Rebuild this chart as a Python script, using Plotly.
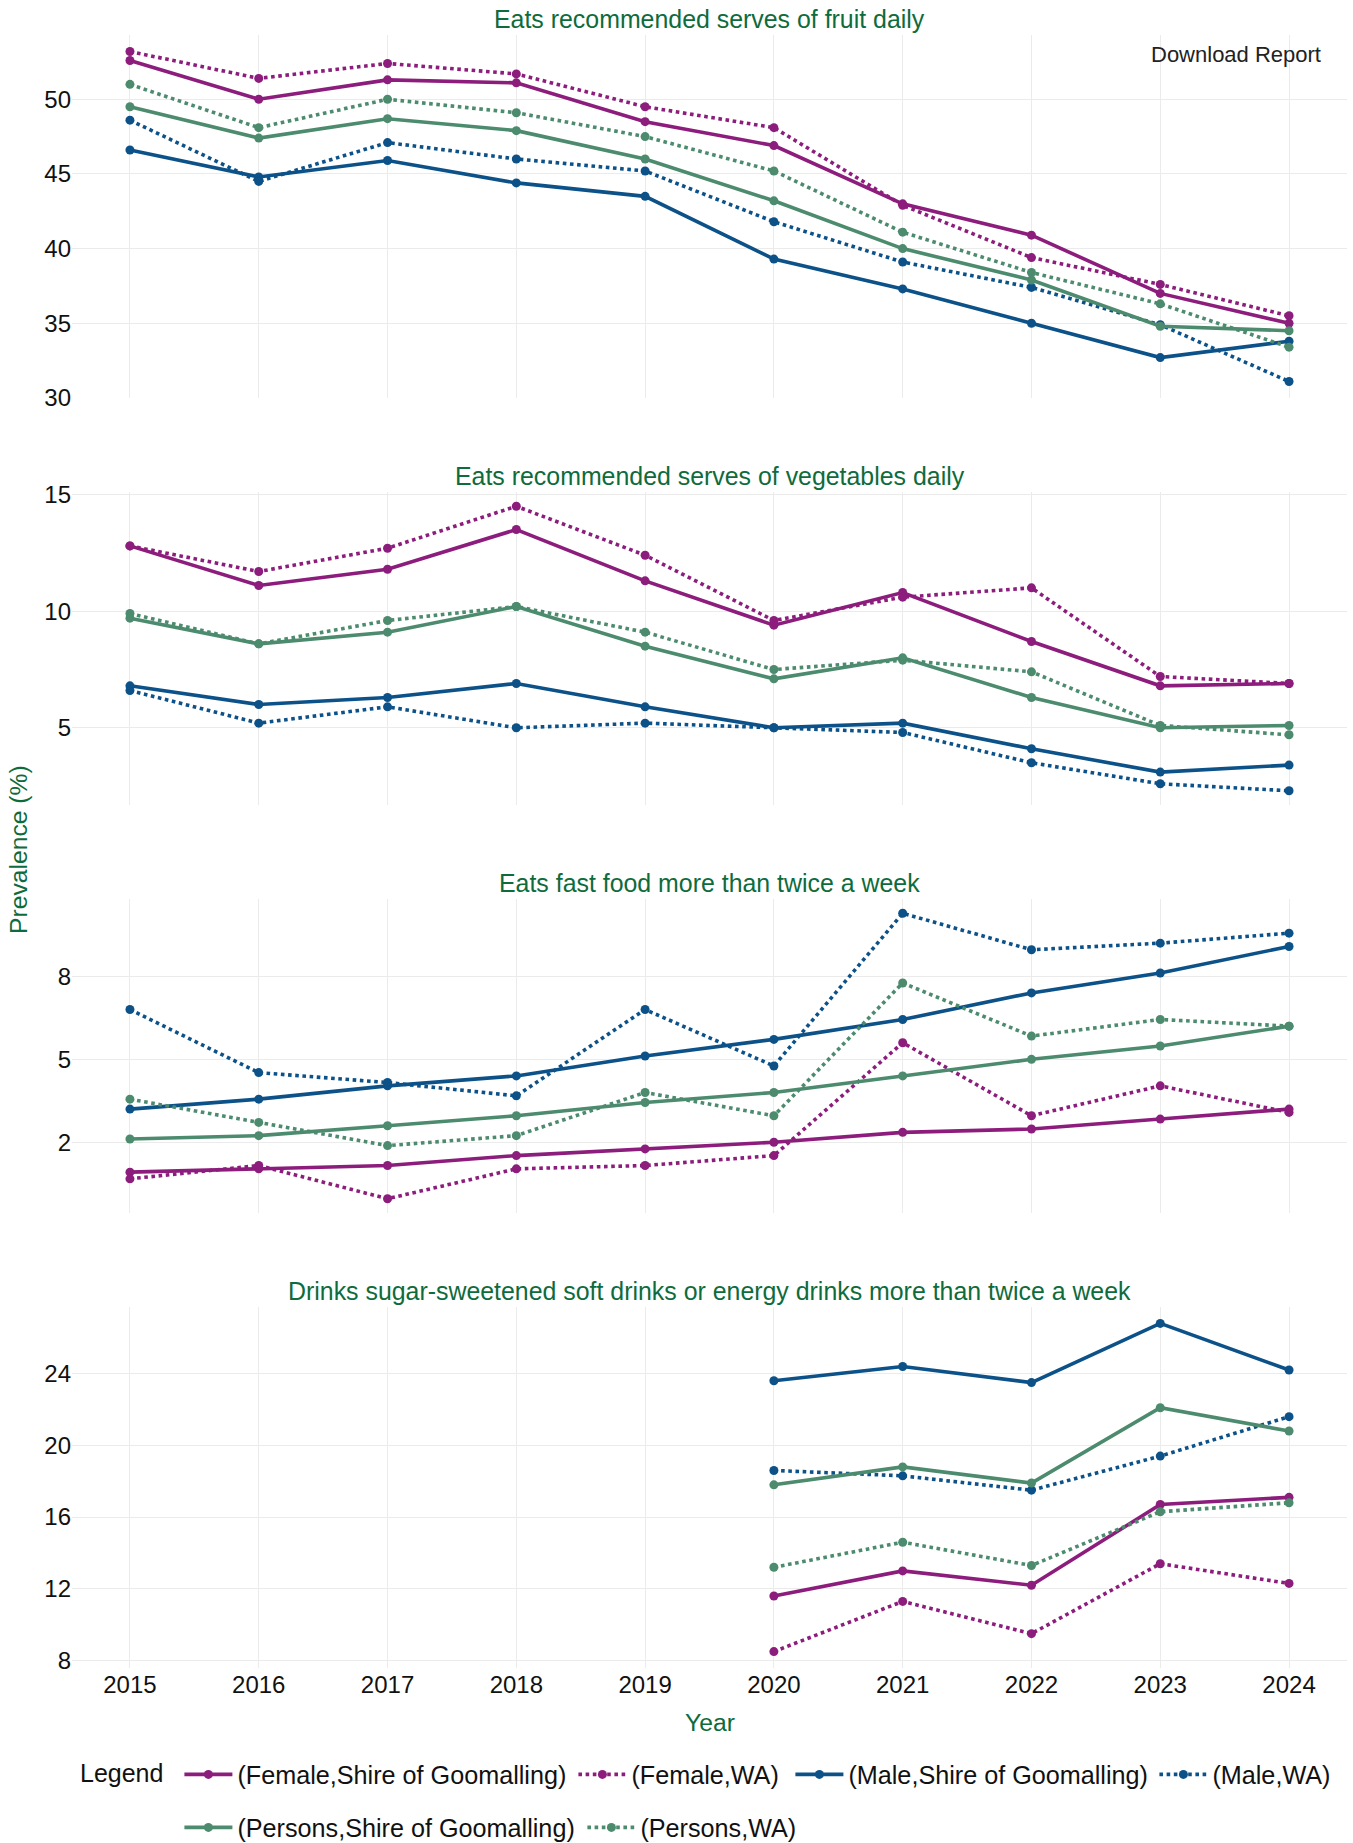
import plotly.graph_objects as go

# ---------------- data ----------------
years = [2015, 2016, 2017, 2018, 2019, 2020, 2021, 2022, 2023, 2024]
years_drinks = [2020, 2021, 2022, 2023, 2024]
year_labels = [str(y) for y in years]

series_names = [
    "(Female,Shire of Goomalling)",
    "(Female,WA)",
    "(Male,Shire of Goomalling)",
    "(Male,WA)",
    "(Persons,Shire of Goomalling)",
    "(Persons,WA)",
]

panel_titles = [
    "Eats recommended serves of fruit daily",
    "Eats recommended serves of vegetables daily",
    "Eats fast food more than twice a week",
    "Drinks sugar-sweetened soft drinks or energy drinks more than twice a week",
]

fruit_female_shire = [52.6, 50.0, 51.3, 51.1, 48.5, 46.9, 43.0, 40.9, 37.0, 35.0]
fruit_female_wa = [53.2, 51.4, 52.4, 51.7, 49.5, 48.1, 42.9, 39.4, 37.6, 35.5]
fruit_male_shire = [46.6, 44.8, 45.9, 44.4, 43.5, 39.3, 37.3, 35.0, 32.7, 33.8]
fruit_male_wa = [48.6, 44.5, 47.1, 46.0, 45.2, 41.8, 39.1, 37.4, 34.9, 31.1]
fruit_persons_shire = [49.5, 47.4, 48.7, 47.9, 46.0, 43.2, 40.0, 37.9, 34.8, 34.5]
fruit_persons_wa = [51.0, 48.1, 50.0, 49.1, 47.5, 45.2, 41.1, 38.4, 36.3, 33.4]

veg_female_shire = [12.8, 11.1, 11.8, 13.5, 11.3, 9.4, 10.8, 8.7, 6.8, 6.9]
veg_female_wa = [12.8, 11.7, 12.7, 14.5, 12.4, 9.6, 10.6, 11.0, 7.2, 6.9]
veg_male_shire = [6.8, 6.0, 6.3, 6.9, 5.9, 5.0, 5.2, 4.1, 3.1, 3.4]
veg_male_wa = [6.6, 5.2, 5.9, 5.0, 5.2, 5.0, 4.8, 3.5, 2.6, 2.3]
veg_persons_shire = [9.7, 8.6, 9.1, 10.2, 8.5, 7.1, 8.0, 6.3, 5.0, 5.1]
veg_persons_wa = [9.9, 8.6, 9.6, 10.2, 9.1, 7.5, 7.9, 7.4, 5.1, 4.7]

fast_female_shire = [1.6, 1.7, 1.8, 2.1, 2.3, 2.5, 2.8, 2.9, 3.2, 3.5]
fast_female_wa = [1.4, 1.8, 0.8, 1.7, 1.8, 2.1, 5.5, 3.3, 4.2, 3.4]
fast_male_shire = [3.5, 3.8, 4.2, 4.5, 5.1, 5.6, 6.2, 7.0, 7.6, 8.4]
fast_male_wa = [6.5, 4.6, 4.3, 3.9, 6.5, 4.8, 9.4, 8.3, 8.5, 8.8]
fast_persons_shire = [2.6, 2.7, 3.0, 3.3, 3.7, 4.0, 4.5, 5.0, 5.4, 6.0]
fast_persons_wa = [3.8, 3.1, 2.4, 2.7, 4.0, 3.3, 7.3, 5.7, 6.2, 6.0]

drink_female_shire = [11.6, 13.0, 12.2, 16.7, 17.1]
drink_female_wa = [8.5, 11.3, 9.5, 13.4, 12.3]
drink_male_shire = [23.6, 24.4, 23.5, 26.8, 24.2]
drink_male_wa = [18.6, 18.3, 17.5, 19.4, 21.6]
drink_persons_shire = [17.8, 18.8, 17.9, 22.1, 20.8]
drink_persons_wa = [13.2, 14.6, 13.3, 16.3, 16.8]

fruit_ticks = [30, 35, 40, 45, 50]
fruit_ticktext = ["30", "35", "40", "45", "50"]
veg_ticks = [5, 10, 15]
veg_ticktext = ["5", "10", "15"]
fast_ticks = [2.5, 5, 7.5]
fast_ticktext = ["2", "5", "8"]
drink_ticks = [8, 12, 16, 20, 24]
drink_ticktext = ["8", "12", "16", "20", "24"]

# ---------------- styling ----------------
W, H = 1353, 1843
ML, MR, MT, MB = 72, 6, 35, 175
PW = W - ML - MR
PH = H - MT - MB

def px2x(p):
    return (p - ML) / PW

def py2y(p):
    return (H - MB - p) / PH

PURPLE = "#8C1D7C"
BLUE = "#0C5289"
GREEN = "#4C8B6E"
TITLE_GREEN = "#0E6B3C"
GRID = "#EBEBEB"
FONT = "Liberation Sans, Arial, sans-serif"
TXT = "#111111"

colors = [PURPLE, PURPLE, BLUE, BLUE, GREEN, GREEN]
dashes = ["solid", "dot", "solid", "dot", "solid", "dot"]
legend_ids = ["legend", "legend2", "legend3", "legend4", "legend5", "legend6"]
# legend entry positions (symbol start x, row centre y) in pixels
legend_sym_x = [186.0, 580.0, 797.0, 1161.0, 186.0, 589.0]
legend_row_y = [1776, 1776, 1776, 1776, 1829, 1829]

panels = [
    (years, [fruit_female_shire, fruit_female_wa, fruit_male_shire, fruit_male_wa,
             fruit_persons_shire, fruit_persons_wa], fruit_ticks, fruit_ticktext),
    (years, [veg_female_shire, veg_female_wa, veg_male_shire, veg_male_wa,
             veg_persons_shire, veg_persons_wa], veg_ticks, veg_ticktext),
    (years, [fast_female_shire, fast_female_wa, fast_male_shire, fast_male_wa,
             fast_persons_shire, fast_persons_wa], fast_ticks, fast_ticktext),
    (years_drinks, [drink_female_shire, drink_female_wa, drink_male_shire, drink_male_wa,
                    drink_persons_shire, drink_persons_wa], drink_ticks, drink_ticktext),
]

# pixel extents of each panel (top, bottom)
panel_px = [(35, 398), (492, 805), (899, 1213), (1307, 1668)]

fig = go.Figure()
layout = dict(
    width=W, height=H,
    margin=dict(l=ML, r=MR, t=MT, b=MB, pad=0, autoexpand=False),
    paper_bgcolor="white", plot_bgcolor="white",
    font=dict(family=FONT, size=24, color=TXT),
    showlegend=True,
    annotations=[],
)

xr = [years[0] - 0.05 * (years[-1] - years[0]), years[-1] + 0.05 * (years[-1] - years[0])]

for i, (xs, ys_list, tv, tt) in enumerate(panels):
    n = i + 1
    xa = "x" if n == 1 else f"x{n}"
    ya = "y" if n == 1 else f"y{n}"
    for j, ys in enumerate(ys_list):
        fig.add_trace(go.Scatter(
            x=xs, y=ys, mode="lines+markers", name=series_names[j],
            line=dict(color=colors[j], width=3.6, dash=dashes[j]),
            marker=dict(color=colors[j], size=9),
            xaxis=xa, yaxis=ya, legend=legend_ids[j],
            showlegend=(i == 0), legendgroup=series_names[j],
        ))
    allv = [v for ys in ys_list for v in ys]
    lo, hi = min(allv), max(allv)
    pad = 0.05 * (hi - lo)
    top, bot = panel_px[i]
    layout[f"xaxis{'' if n == 1 else n}"] = dict(
        domain=[0, 1], anchor=ya, range=xr,
        tickvals=years, ticktext=year_labels,
        showticklabels=(n == 4), ticks="",
        showgrid=True, gridcolor=GRID, gridwidth=1,
        zeroline=False, showline=False,
        tickfont=dict(size=24, color=TXT),
        matches=None if n == 1 else "x",
    )
    layout[f"yaxis{'' if n == 1 else n}"] = dict(
        domain=[py2y(bot), py2y(top)], anchor=xa,
        range=[lo - pad, hi + pad],
        tickvals=tv, ticktext=tt, ticks="",
        showgrid=True, gridcolor=GRID, gridwidth=1,
        zeroline=False, showline=False,
        tickfont=dict(size=24, color=TXT),
    )
    layout["annotations"].append(dict(
        text=panel_titles[i], xref="paper", yref="paper",
        x=0.5, y=py2y(top), xanchor="center", yanchor="middle", yshift=16,
        showarrow=False, font=dict(size=24.9, color=TITLE_GREEN),
    ))

layout["annotations"].append(dict(
    text="Prevalence (%)", xref="paper", yref="paper",
    x=px2x(18), y=py2y(850), xanchor="center", yanchor="middle",
    textangle=-90, showarrow=False, font=dict(size=24.7, color=TITLE_GREEN),
))
layout["annotations"].append(dict(
    text="Year", xref="paper", yref="paper",
    x=px2x(710), y=py2y(1722), xanchor="center", yanchor="middle",
    showarrow=False, font=dict(size=24.7, color=TITLE_GREEN),
))
layout["annotations"].append(dict(
    text="Download Report", xref="paper", yref="paper",
    x=px2x(1236), y=py2y(54), xanchor="center", yanchor="middle",
    showarrow=False, font=dict(size=22, color="#222222"),
))
layout["annotations"].append(dict(
    text="Legend", xref="paper", yref="paper",
    x=px2x(78), y=py2y(1773), xanchor="left", yanchor="middle",
    showarrow=False, font=dict(size=25, color=TXT),
))

for k, lid in enumerate(legend_ids):
    layout[lid] = dict(
        orientation="h", x=px2x(legend_sym_x[k] - 6.6), xanchor="left",
        y=py2y(legend_row_y[k] - 24.5), yanchor="top",
        font=dict(size=25.2, color=TXT), itemwidth=48,
        bgcolor="rgba(0,0,0,0)", traceorder="normal",
    )

fig.update_layout(**layout)

fig.write_html(
    "out.html",
    config={"displayModeBar": False},
    post_script="document.body.style.margin='0';document.documentElement.style.overflow='hidden';",
)
